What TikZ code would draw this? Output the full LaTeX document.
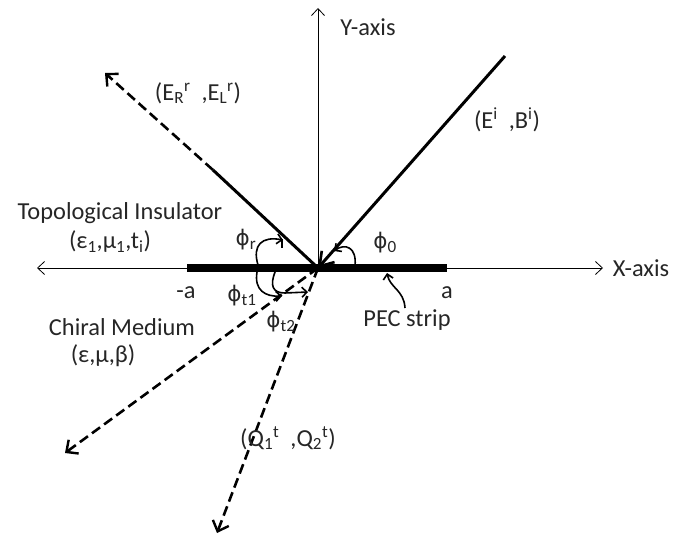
\documentclass[tikz,border=0pt]{standalone}
\usepackage{fontspec}
\setmainfont{Carlito}
\newfontfamily\phifont{DejaVu Sans}[Scale=0.88]
\newcommand{\myphi}{{\phifont ϕ}}
\usetikzlibrary{arrows.meta}
\begin{document}
\begin{tikzpicture}[x=1bp,y=-1bp,
  lbl/.style={font=\fontsize{24.5}{28}\selectfont, text=black!85, inner sep=0pt},
  axis/.style={line width=0.8bp, -{Straight Barb[length=7bp,width=13bp,line width=0.8bp]}},
  ray/.style={line width=3bp},
  dray/.style={line width=2.6bp, dash pattern=on 10bp off 5bp, -{Straight Barb[length=9bp,width=17bp,line width=2.4bp]}},
  angarr/.style={line width=1.6bp, -{Straight Barb[length=5bp,width=10bp,line width=1.6bp]}}]
\useasboundingbox (0,0) rectangle (685,537);
% coordinates
\coordinate (O) at (318,268);
\coordinate (xl) at (37,268);
\coordinate (xr) at (603,268);
\coordinate (yt) at (318,8);
\coordinate (sl) at (187,268);
\coordinate (sr) at (447,268);
\coordinate (inc) at (505,56);
\coordinate (refmid) at (213,170);
\coordinate (ref) at (105,73);
\coordinate (t1) at (65,453);
\coordinate (t2) at (217,533);
% axes
\draw[axis] (O) -- (xr);
\draw[axis] (O) -- (xl);
\draw[axis] (O) -- (yt);
% PEC strip
\draw[line width=8bp] (sl) -- (sr);
% rays
\draw[ray, -{Straight Barb[length=13bp,width=17bp,line width=2.6bp]}] (inc) -- (O);
\draw[ray] (O) -- (refmid);
\draw[dray] (refmid) -- (ref);
\draw[dray] (O) -- (t1);
\draw[dray] (O) -- (t2);
% angle arrows
\draw[angarr] (355,266) .. controls (357,247) and (345,243) .. (334,251);
\draw[angarr] (258,265) .. controls (252,245) and (262,236) .. (283,240);
\draw[line width=1.6bp] (282,239) -- (282,248);
\draw[angarr] (257,272) .. controls (254,290) and (265,297) .. (282,296);
\draw[angarr] (275,272) .. controls (270,285) and (272,293) .. (285,293) -- (308,292);
\draw[angarr] (405,308) .. controls (404,290) and (390,288) .. (387,273);
% labels
\node[lbl] (ylab) at (368,27) {Y-axis};
\node[lbl] (xlab) at (641,268) {X-axis};
\node[lbl] (rlab) at (198,93) {(E\textsubscript{R}\textsuperscript{r}\ \ ,E\textsubscript{L}\textsuperscript{r})};
\node[lbl] (ilab) at (507,120) {(E\textsuperscript{i}\ \ ,B\textsuperscript{i})};
\node[lbl] (ti) at (120,213) {Topological Insulator};
\node[lbl] (tip) at (110,242) {(ε\textsubscript{1},μ\textsubscript{1},t\textsubscript{i})};
\node[lbl] (ma) at (186,293) {-a};
\node[lbl] (pa) at (447,293) {a};
\node[lbl] (pec) at (407,320) {PEC strip};
\node[lbl] (cm) at (122,327) {Chiral Medium};
\node[lbl] (cmp) at (103,356) {(ε,μ,β)};
\node[lbl] (phr) at (246,240) {\myphi\textsubscript{r}};
\node[lbl] (ph0) at (385,243) {\myphi\textsubscript{0}};
\node[lbl] (pht1) at (242,296) {\myphi\textsubscript{t1}};
\node[lbl] (pht2) at (281,322) {\myphi\textsubscript{t2}};
\node[lbl] (qlab) at (288,438) {(Q\textsubscript{1}\textsuperscript{t}\ \ ,Q\textsubscript{2}\textsuperscript{t})};
\end{tikzpicture}
\end{document}
